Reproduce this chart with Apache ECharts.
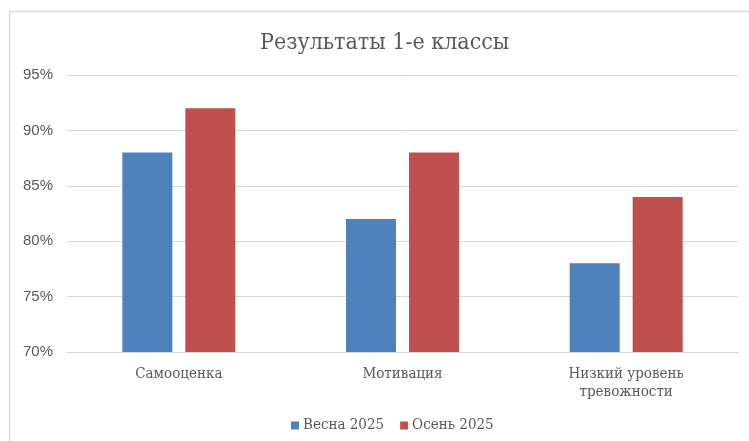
<!DOCTYPE html>
<html>
<head>
<meta charset="utf-8">
<script src="https://cdn.jsdelivr.net/npm/echarts@6/dist/echarts.min.js"></script>
<style>
  html, body { margin: 0; padding: 0; background: #fff; }
  #chart { width: 749px; height: 441px; }
</style>
</head>
<body>
<div id="chart"></div>
<script>
// ===== данные =====
var categories = ['Самооценка', 'Мотивация', 'Низкий уровень\nтревожности'];
var spring2025 = [88, 82, 78];
var autumn2025 = [92, 88, 84];
var seriesNames = ['Весна 2025', 'Осень 2025'];

var serif = '"DejaVu Serif Condensed", "Liberation Serif", serif';
var sans = '"Liberation Sans", Arial, sans-serif';

var chart = echarts.init(document.getElementById('chart'));

var option = {
  backgroundColor: '#fff',
  animation: false,
  // рамка области диаграммы
  graphic: [{
    type: 'rect',
    shape: { x: 9.5, y: 11.5, width: 760, height: 460 },
    style: { fill: 'none', stroke: '#d9d9d9', lineWidth: 1.5 },
    silent: true
  }],
  title: {
    text: 'Результаты 1-е классы',
    left: 255,
    top: 27,
    textStyle: { fontFamily: serif, fontSize: 23, fontWeight: 'normal', color: '#595959' }
  },
  legend: {
    data: seriesNames,
    bottom: 3,
    left: 286,
    itemWidth: 8,
    itemHeight: 8,
    itemGap: 16,
    icon: 'rect',
    textStyle: { fontFamily: serif, fontSize: 15, color: '#595959', padding: [0, 0, 0, -1] }
  },
  grid: { left: 67, right: 11, top: 75, bottom: 89, containLabel: false },
  xAxis: {
    type: 'category',
    data: categories,
    axisTick: { show: false },
    axisLine: { lineStyle: { color: '#d9d9d9', width: 1 } },
    axisLabel: {
      fontFamily: serif, fontSize: 15, color: '#595959',
      margin: 13, lineHeight: 18
    }
  },
  yAxis: {
    type: 'value',
    min: 70,
    max: 95,
    interval: 5,
    axisLine: { show: false },
    axisTick: { show: false },
    splitLine: { lineStyle: { color: '#d9d9d9', width: 1 } },
    axisLabel: {
      fontFamily: sans, fontSize: 15, color: '#595959', margin: 14,
      formatter: '{value}%'
    }
  },
  series: [
    {
      name: seriesNames[0],
      type: 'bar',
      data: spring2025,
      barWidth: 50,
      barGap: '26%',
      itemStyle: { color: '#4F81BD' }
    },
    {
      name: seriesNames[1],
      type: 'bar',
      data: autumn2025,
      barWidth: 50,
      itemStyle: { color: '#C0504D' }
    }
  ]
};

chart.setOption(option);
</script>
</body>
</html>
